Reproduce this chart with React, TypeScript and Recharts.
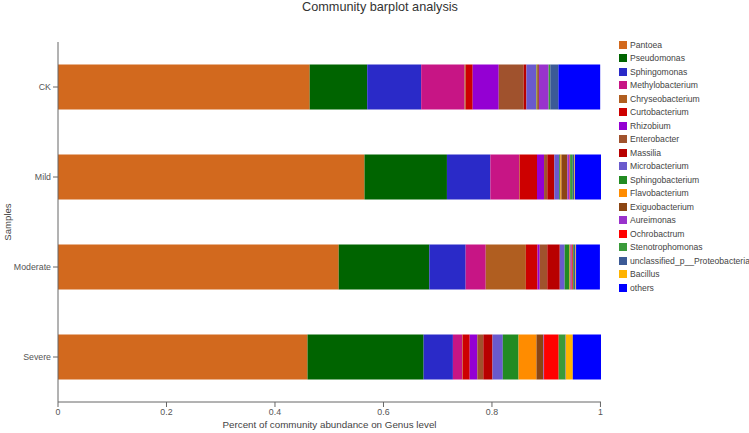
import React from 'react';
import { BarChart, Bar, XAxis, YAxis } from 'recharts';

const samples = ['CK', 'Mild', 'Moderate', 'Severe'];

const genera = [
  'Pantoea', 'Pseudomonas', 'Sphingomonas', 'Methylobacterium', 'Chryseobacterium',
  'Curtobacterium', 'Rhizobium', 'Enterobacter', 'Massilia', 'Microbacterium',
  'Sphingobacterium', 'Flavobacterium', 'Exiguobacterium', 'Aureimonas', 'Ochrobactrum',
  'Stenotrophomonas', 'unclassified_p__Proteobacteria', 'Bacillus', 'others',
];

const colors = [
  '#D2691E', '#006400', '#2A2AC8', '#C71585', '#B05E20',
  '#CD0000', '#9400D3', '#A0522D', '#B80000', '#6A5ACD',
  '#228B22', '#FF8C00', '#8B4513', '#9932CC', '#FF0000',
  '#3A9A3A', '#3C5A96', '#FFB300', '#0000FF',
];

// values per genus, ordered CK, Mild, Moderate, Severe
const pantoea = [0.464, 0.565, 0.5175, 0.46];
const pseudomonas = [0.106, 0.152, 0.167, 0.214];
const sphingomonas = [0.0995, 0.08, 0.067, 0.054];
const methylobacterium = [0.08, 0.053, 0.037, 0.017];
const chryseobacterium = [0.002, 0.001, 0.074, 0.001];
const curtobacterium = [0.013, 0.032, 0.0215, 0.013];
const rhizobium = [0.048, 0.013, 0.004, 0.014];
const enterobacter = [0.046, 0.006, 0.014, 0.011];
const massilia = [0.005, 0.013, 0.023, 0.017];
const microbacterium = [0.018, 0.009, 0.009, 0.019];
const sphingobacterium = [0.001, 0.002, 0.009, 0.029];
const flavobacterium = [0.001, 0.002, 0.001, 0.033];
const exiguobacterium = [0.003, 0.011, 0.001, 0.013];
const aureimonas = [0.018, 0.004, 0.002, 0.001];
const ochrobactrum = [0, 0.001, 0.002, 0.027];
const stenotrophomonas = [0.003, 0.005, 0.002, 0.012];
const unclassified = [0.015, 0.003, 0.003, 0.001];
const bacillus = [0, 0.001, 0.001, 0.013];
const others = [0.077, 0.048, 0.044, 0.052];

const series = [
  pantoea, pseudomonas, sphingomonas, methylobacterium, chryseobacterium,
  curtobacterium, rhizobium, enterobacter, massilia, microbacterium,
  sphingobacterium, flavobacterium, exiguobacterium, aureimonas, ochrobactrum,
  stenotrophomonas, unclassified, bacillus, others,
];

const xTicks = [0, 0.2, 0.4, 0.6, 0.8, 1];

const data = samples.map((s, i) => {
  const row: Record<string, any> = { sample: s };
  genera.forEach((g, j) => { row[g] = series[j][i]; });
  return row;
});

const FONT = '"Liberation Sans", Arial, sans-serif';

export default function App() {
  return (
    <div style={{ position: 'absolute', left: 0, top: 0, width: 749, height: 433, background: '#fff', fontFamily: FONT }}>
      <div style={{ position: 'absolute', left: 0, width: 760, top: 0, textAlign: 'center', fontSize: 12.7, color: '#333' }}>
        Community barplot analysis
      </div>
      <BarChart
        width={749}
        height={433}
        data={data}
        layout="vertical"
        margin={{ top: 42, right: 148, bottom: 0, left: 0 }}
        barCategoryGap="25%"
      >
        <XAxis
          type="number"
          domain={[0, 1]}
          ticks={xTicks}
          height={31}
          tick={{ fontSize: 8.8, fill: '#555', fontFamily: FONT }}
          stroke="#666"
          tickSize={5}
        />
        <YAxis
          type="category"
          dataKey="sample"
          width={58}
          tick={{ fontSize: 8.8, fill: '#555', fontFamily: FONT }}
          stroke="#666"
          tickSize={5}
        />
        {genera.map((g, i) => (
          <Bar key={g} dataKey={g} stackId="a" fill={colors[i]} isAnimationActive={false} />
        ))}
      </BarChart>
      <div style={{ position: 'absolute', left: 619, top: 38, fontSize: 8.6, color: '#444' }}>
        {genera.map((g, i) => (
          <div key={g} style={{ display: 'flex', alignItems: 'center', height: 13.5 }}>
            <div style={{ width: 8, height: 8, background: colors[i], marginRight: 3, flexShrink: 0 }} />
            <span style={{ whiteSpace: 'nowrap' }}>{g}</span>
          </div>
        ))}
      </div>
      <div style={{ position: 'absolute', left: 58, width: 543, top: 419, textAlign: 'center', fontSize: 9.8, color: '#444' }}>
        Percent of community abundance on Genus level
      </div>
      <div style={{ position: 'absolute', left: 7, top: 222, transform: 'translate(-50%, -50%) rotate(-90deg)', fontSize: 9.6, color: '#444' }}>
        Samples
      </div>
    </div>
  );
}
